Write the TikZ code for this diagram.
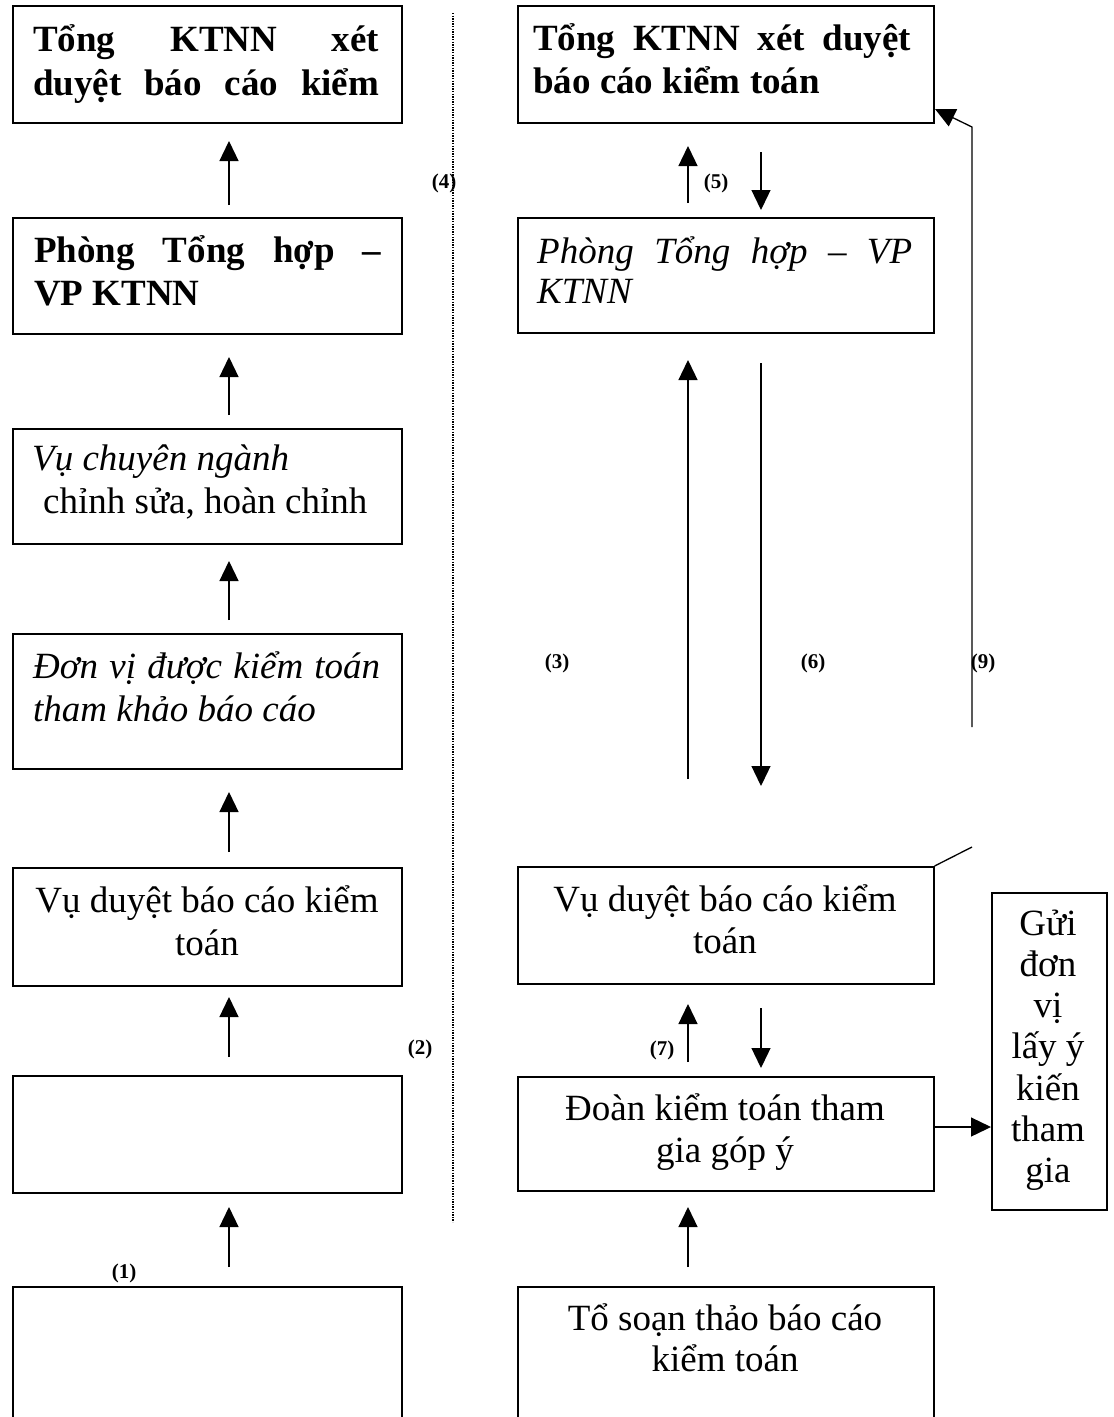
\documentclass[tikz,border=0pt]{standalone}
\usepackage{fontspec}
\setmainfont{Liberation Serif}
\usetikzlibrary{arrows.meta}
\tikzset{
  box/.style={draw, line width=1.6pt, inner sep=0pt, anchor=north west},
  txt/.style={inner sep=0pt, anchor=base west, font=\fontsize{37}{43}\selectfont},
  ctxt/.style={inner sep=0pt, anchor=base, font=\fontsize{37}{43}\selectfont},
  stxt/.style={inner sep=0pt, anchor=base west, font=\fontsize{37}{43}\selectfont\itshape},
  lbl/.style={inner sep=0pt, font=\fontsize{21}{24}\selectfont\bfseries},
  arr/.style={line width=1.3pt, -{Triangle[length=20pt,width=19pt]}},
  plain/.style={line width=1.3pt},
  sepline/.style={line width=1.3pt, dash pattern=on 1.3pt off 1.3pt},
}
\begin{document}
\begin{tikzpicture}[x=1pt,y=-1pt]
\useasboundingbox (0,0) rectangle (1114,1417);
\fill[white] (0,0) rectangle (1114,1417);
\clip (0,0) rectangle (1114,1417);

% separator
\coordinate (s1) at (453,13);
\coordinate (s2) at (453,1222);
\draw[sepline] (s1) -- (s2);

% left column boxes
\node[box, minimum width=389pt, minimum height=117pt] (L1) at (12,5) {};
\node[box, minimum width=389pt, minimum height=116pt] (L2) at (12,217) {};
\node[box, minimum width=389pt, minimum height=115pt] (L3) at (12,428) {};
\node[box, minimum width=389pt, minimum height=135pt] (L4) at (12,633) {};
\node[box, minimum width=389pt, minimum height=118pt] (L5) at (12,867) {};
\node[box, minimum width=389pt, minimum height=117pt] (L6) at (12,1075) {};
\node[box, minimum width=389pt, minimum height=170pt] (L7) at (12,1286) {};

% right column boxes
\node[box, minimum width=416pt, minimum height=117pt] (R1) at (517,5) {};
\node[box, minimum width=416pt, minimum height=115pt] (R2) at (517,217) {};
\node[box, minimum width=416pt, minimum height=117pt] (R3) at (517,866) {};
\node[box, minimum width=416pt, minimum height=114pt] (R4) at (517,1076) {};
\node[box, minimum width=416pt, minimum height=170pt] (R5) at (517,1286) {};
\node[box, minimum width=115pt, minimum height=317pt] (G) at (991,892) {};

% left texts
\node[txt] (L1a) at (33,51) {\bfseries\makebox[346pt][s]{Tổng KTNN xét}};
\node[txt] (L1b) at (33,95) {\bfseries\makebox[346pt][s]{duyệt báo cáo kiểm}};
\node[txt] (L2a) at (34,262) {\bfseries\makebox[347pt][s]{Phòng Tổng hợp –}};
\node[txt] (L2b) at (34,305) {\bfseries VP KTNN};
\node[txt] (L3a) at (32,470) {\itshape Vụ chuyên ngành};
\node[txt] (L3b) at (43,513) {chỉnh sửa, hoàn chỉnh};
\node[txt] (L4a) at (33,678) {\itshape\makebox[347pt][s]{Đơn vị được kiểm toán}};
\node[txt] (L4b) at (33,721) {\itshape tham khảo báo cáo};
\node[ctxt] (L5a) at (207,912) {Vụ duyệt báo cáo kiểm};
\node[ctxt] (L5b) at (207,955) {toán};

% right texts
\node[txt] (R1a) at (533,50) {\bfseries\makebox[378pt][s]{Tổng KTNN xét duyệt}};
\node[txt] (R1b) at (533,93) {\bfseries báo cáo kiểm toán};
\node[stxt] (R2a) at (537,263) {\makebox[375pt][s]{Phòng Tổng hợp – VP}};
\node[stxt] (R2b) at (537,303) {KTNN};
\node[ctxt] (R3a) at (725,911) {Vụ duyệt báo cáo kiểm};
\node[ctxt] (R3b) at (725,953) {toán};
\node[ctxt] (R4a) at (725,1120) {Đoàn kiểm toán tham};
\node[ctxt] (R4b) at (725,1162) {gia góp ý};
\node[ctxt] (R5a) at (725,1330) {Tổ soạn thảo báo cáo};
\node[ctxt] (R5b) at (725,1371) {kiểm toán};

\node[ctxt] (G1) at (1048,935) {Gửi};
\node[ctxt] (G2) at (1048,976.3) {đơn};
\node[ctxt] (G3) at (1048,1017.6) {vị};
\node[ctxt] (G4) at (1048,1058.9) {lấy ý};
\node[ctxt] (G5) at (1048,1100.2) {kiến};
\node[ctxt] (G6) at (1048,1141.5) {tham};
\node[ctxt] (G7) at (1048,1182.8) {gia};

% labels
\node[lbl] (n4) at (444,183) {(4)};
\node[lbl] (n5) at (716,183) {(5)};
\node[lbl] (n3) at (557,663) {(3)};
\node[lbl] (n6) at (813,663) {(6)};
\node[lbl] (n9) at (983,663) {(9)};
\node[lbl] (n2) at (420,1049) {(2)};
\node[lbl] (n7) at (662,1050) {(7)};
\node[lbl] (n1) at (124,1273) {(1)};

% left column arrows
\coordinate (a1s) at (229,205);  \coordinate (a1e) at (229,141);
\coordinate (a2s) at (229,415);  \coordinate (a2e) at (229,357);
\coordinate (a3s) at (229,620);  \coordinate (a3e) at (229,561);
\coordinate (a4s) at (229,852);  \coordinate (a4e) at (229,792);
\coordinate (a5s) at (229,1057); \coordinate (a5e) at (229,997);
\coordinate (a6s) at (229,1267); \coordinate (a6e) at (229,1207);
\foreach \i in {1,...,6} {\draw[arr] (a\i s) -- (a\i e);}

% right column arrows
\coordinate (u5s) at (688,203);  \coordinate (u5e) at (688,146);
\coordinate (d5s) at (761,152);  \coordinate (d5e) at (761,210);
\coordinate (u3s) at (688,779);  \coordinate (u3e) at (688,360);
\coordinate (d6s) at (761,363);  \coordinate (d6e) at (761,786);
\coordinate (u7s) at (688,1062); \coordinate (u7e) at (688,1004);
\coordinate (d7s) at (761,1008); \coordinate (d7e) at (761,1068);
\coordinate (u8s) at (688,1267); \coordinate (u8e) at (688,1207);
\draw[arr] (u5s) -- (u5e);
\draw[arr] (d5s) -- (d5e);
\draw[arr] (u3s) -- (u3e);
\draw[arr] (d6s) -- (d6e);
\draw[arr] (u7s) -- (u7e);
\draw[arr] (d7s) -- (d7e);
\draw[arr] (u8s) -- (u8e);

% (9) return path
\coordinate (p9a) at (972,727);
\coordinate (p9b) at (972,127);
\coordinate (p9c) at (935,109);
\draw[arr] (p9a) -- (p9b) -- (p9c);

% to side box
\coordinate (gs) at (933,1127);
\coordinate (ge) at (991,1127);
\draw[arr] (gs) -- (ge);

% diagonal stub
\coordinate (dg) at (972,847);
\draw[plain] (R3.north east) -- (dg);
\end{tikzpicture}
\end{document}
